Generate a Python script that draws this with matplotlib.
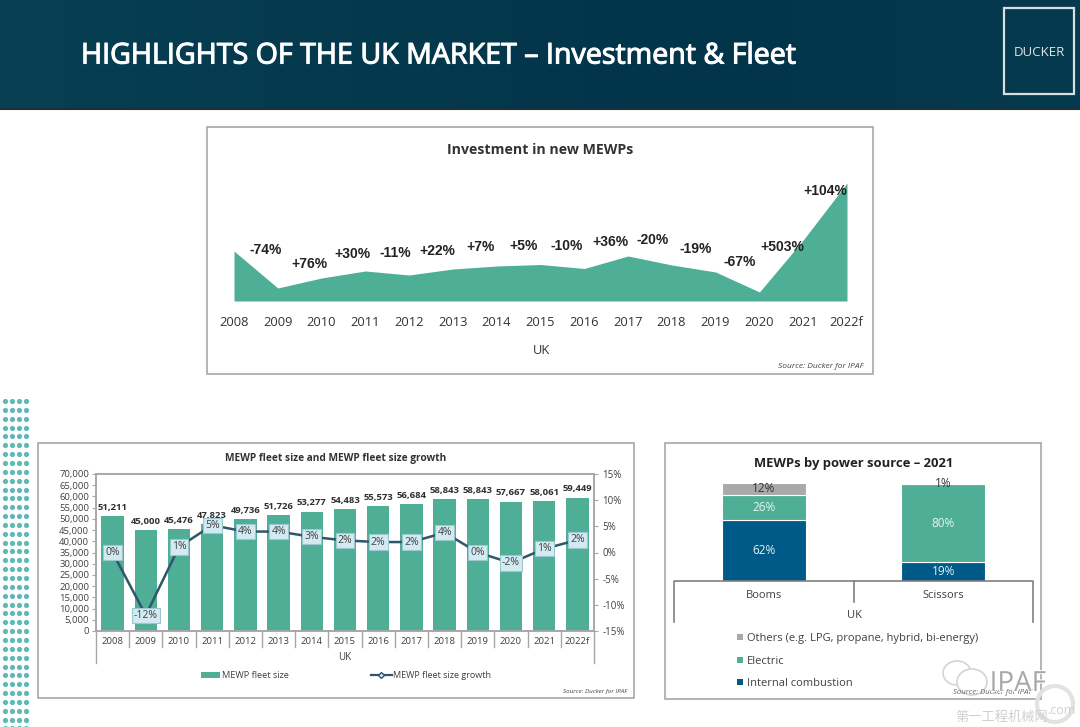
import matplotlib
matplotlib.use('Agg')
import matplotlib.pyplot as plt
import matplotlib.patheffects as pe
from matplotlib.colors import LinearSegmentedColormap
from matplotlib.patches import Rectangle, Ellipse
import numpy as np

plt.rcParams['font.family'] = ['Open Sans', 'Noto Sans CJK SC', 'DejaVu Sans']

W, H = 1080, 727
GREEN = '#4fae96'
BLUE = '#005a87'
GREY = '#a9a9a9'
EDGE = '#a6a6a6'
TEXT = '#404040'

# investment chart
years = ['2008', '2009', '2010', '2011', '2012', '2013', '2014', '2015',
         '2016', '2017', '2018', '2019', '2020', '2021', '2022f']
investment = [50, 13, 23, 30, 26, 32, 35, 36.5, 32.5, 45, 36, 29, 9, 61, 118]
invest_change = ['-74%', '+76%', '+30%', '-11%', '+22%', '+7%', '+5%', '-10%',
                 '+36%', '-20%', '-19%', '-67%', '+503%', '+104%']

# fleet chart
fleet = [51211, 45000, 45476, 47823, 49736, 51726, 53277, 54483,
         55573, 56684, 58843, 58843, 57667, 58061, 59449]
growth = [0, -12, 1.06, 5.2, 4, 4, 3, 2.3, 2, 2, 3.8, 0, -2, 0.7, 2.4]

# power source chart
machines = ['Booms', 'Scissors']
combustion = [62, 19]
electric = [26, 80]
others = [12, 1]


def px_axes(left, top, right, bottom, **kw):
    return fig.add_axes([left / W, 1 - bottom / H, (right - left) / W, (bottom - top) / H], **kw)


def panel(ax, left, top, right, bottom):
    ax.add_patch(Rectangle((left, top), right - left, bottom - top, fc='white', ec='#a8a8a8', lw=1.2))


fig = plt.figure(figsize=(W / 100, H / 100), dpi=100, facecolor='white')

# background layer
bg = fig.add_axes([0, 0, 1, 1], zorder=0)
header = LinearSegmentedColormap.from_list('hd', ['#083f52', '#02344a', '#063a4e'])
shade = np.interp(np.linspace(0, 1, 400), [0, 0.65, 1], [0, 0.5, 1])
bg.imshow(shade[np.newaxis, :], extent=(0, W, 108, 0), aspect='auto', cmap=header, vmin=0, vmax=1)
bg.set_xlim(0, W)
bg.set_ylim(H, 0)
bg.axis('off')
bg.plot([0, W], [108.5, 108.5], color='#1d2f38', lw=1.5)
bg.add_patch(Rectangle((1004, 8), 70, 86, fc='none', ec='#d8dee2', lw=1.6))

dot_x, dot_y = np.meshgrid([5, 11.7, 18.7, 25.7], np.arange(401, 730, 8.85))
bg.scatter(dot_x.ravel(), dot_y.ravel(), s=14, color='#5cb9b6', lw=0)

panel(bg, 207, 127, 873, 374)
panel(bg, 38, 443, 634, 698)
panel(bg, 665, 443, 1041, 699)

# top chart
ax1 = px_axes(234, 183, 847, 301, zorder=2)
xs = np.arange(len(years))
ax1.fill_between(xs, investment, color=GREEN, lw=0)
ax1.set_xlim(0, len(years) - 1)
ax1.set_ylim(0, max(investment))
ax1.axis('off')

# fleet chart
ax2 = px_axes(96, 474, 594, 631, zorder=2)
ax2.bar(xs, fleet, width=0.67, color=GREEN)
ax2.set_xlim(-0.5, len(years) - 0.5)
ax2.set_ylim(0, 70000)
ax2.set_yticks(np.arange(0, 70001, 5000))
ax2.set_yticklabels([f'{v:,}' for v in np.arange(0, 70001, 5000)])
ax2.set_xticks(xs)
ax2.set_xticklabels(years)
ax2.tick_params(axis='x', length=0, pad=4, labelsize=6.8, labelcolor=TEXT)
ax2.tick_params(axis='y', length=3, pad=2, labelsize=6.8, labelcolor=TEXT, color=EDGE)
for v, x in zip(fleet, xs):
    ax2.annotate(f'{v:,}', (x, v), xytext=(0, 3), textcoords='offset points', ha='center', va='bottom',
                 fontsize=6.8, fontweight='bold', color='#303030')

ax2r = ax2.twinx()
ax2r.set_ylim(-15, 15)
ax2r.set_yticks(np.arange(-15, 16, 5))
ax2r.set_yticklabels([f'{v}%' for v in np.arange(-15, 16, 5)])
ax2r.tick_params(axis='y', length=3, pad=3, labelsize=7, labelcolor=TEXT, color=EDGE)
ax2r.plot(xs, growth, color='#2f5669', lw=1.8, marker='D', ms=3, mfc='#d5ebf2', mec='#2f5669')
for v, x in zip(growth, xs):
    ax2r.text(x, v, f'{v:.0f}%', ha='center', va='center', fontsize=7.5, color=TEXT, zorder=5,
              bbox=dict(boxstyle='square,pad=0.2', fc='#d3eaf2', ec='#9cc6d0', lw=0.8))
for a in (ax2, ax2r):
    for s in a.spines.values():
        s.set_color(EDGE)
        s.set_linewidth(1.1)

# power source chart
ax3 = px_axes(674, 483, 1033, 581, zorder=2)
pos = np.arange(len(machines))
ax3.bar(pos, combustion, width=0.47, color=BLUE, ec='white', lw=0.8)
ax3.bar(pos, electric, width=0.47, bottom=combustion, color=GREEN, ec='white', lw=0.8)
ax3.bar(pos, others, width=0.47, bottom=np.add(combustion, electric), color=GREY, ec='white', lw=0.8)
for i in pos:
    ax3.text(i, combustion[i] / 2, f'{combustion[i]}%', ha='center', va='center', color='#e8f2f6', fontsize=8.5)
    ax3.text(i, combustion[i] + electric[i] / 2, f'{electric[i]}%', ha='center', va='center', color='#e8f6f2', fontsize=8.5)
    ax3.text(i, combustion[i] + electric[i] + others[i] / 2, f'{others[i]}%', ha='center', va='center', color='#333333', fontsize=8.5)
ax3.set_xlim(-0.5, 1.5)
ax3.set_ylim(0, 100)
ax3.axis('off')

# text and rules on top
fg = fig.add_axes([0, 0, 1, 1], zorder=10)
fg.set_xlim(0, W)
fg.set_ylim(H, 0)
fg.axis('off')
fg.patch.set_alpha(0)

fg.text(81, 56, 'HIGHLIGHTS OF THE UK MARKET – Investment & Fleet', color='white', fontsize=20.6,
        va='center', path_effects=[pe.withStroke(linewidth=0.8, foreground='white')])
fg.text(1039, 52, 'DUCKER', color='#dfe5e8', fontsize=9.5, ha='center', va='center')

# top chart text
fg.text(540, 150, 'Investment in new MEWPs', fontsize=10.2, fontweight='bold', color='#333333', ha='center', va='center')
invest_x = [266, 309, 352, 395, 437, 481, 524, 567, 610, 653, 696, 740, 782, 825]
invest_y = [250, 264, 254, 253, 251, 247, 246, 246, 242, 240, 249, 262, 247, 191]
for label, x, y in zip(invest_change, invest_x, invest_y):
    fg.text(x, y, label, fontsize=10, fontweight='bold', color='#222222', ha='center', va='center', family='Liberation Sans')
for i, y in enumerate(years):
    fg.text(234 + 43.75 * i, 322, y, fontsize=9.3, color='#333333', ha='center', va='center')
fg.text(541, 350, 'UK', fontsize=9.3, color='#333333', ha='center', va='center')
fg.text(864, 367, 'Source: Ducker for IPAF', fontsize=6, style='italic', color='#444444', ha='right', va='center')

# fleet chart text
fg.text(336, 459, 'MEWP fleet size and MEWP fleet size growth', fontsize=7.3, fontweight='bold', color='#333333', ha='center', va='center')
step = (594 - 96) / len(years)
for i in range(len(years) + 1):
    bottom = 663 if i in (0, len(years)) else 647
    fg.plot([96 + step * i] * 2, [631, bottom], color=EDGE, lw=1)
fg.text(345, 658, 'UK', fontsize=7, color=TEXT, ha='center', va='center')
fg.add_patch(Rectangle((201, 672), 19, 6, fc=GREEN, ec='none'))
fg.text(222, 676, 'MEWP fleet size', fontsize=6.6, color=TEXT, va='center')
fg.plot([371, 392], [675, 675], color='#2f5669', lw=1.6)
fg.plot([381], [675], marker='D', ms=3, mfc='#d5ebf2', mec='#2f5669', lw=0)
fg.text(393, 676, 'MEWP fleet size growth', fontsize=6.5, color=TEXT, va='center')
fg.text(627, 691, 'Source: Ducker for IPAF', fontsize=4.5, style='italic', color='#444444', ha='right', va='center')

# power source text
fg.text(854, 464, 'MEWPs by power source – 2021', fontsize=9.4, fontweight='bold', color='#222222', ha='center', va='center')
fg.plot([674, 674, 1033, 1033], [622, 581, 581, 622], color='#808080', lw=1.2)
fg.plot([854, 854], [581, 602], color='#808080', lw=1.2)
fg.text(764, 595, machines[0], fontsize=8, color=TEXT, ha='center', va='center')
fg.text(943, 595, machines[1], fontsize=8, color=TEXT, ha='center', va='center')
fg.text(854, 616, 'UK', fontsize=8, color=TEXT, ha='center', va='center')
legend_rows = [(637, GREY, 'Others (e.g. LPG, propane, hybrid, bi-energy)'),
               (660, GREEN, 'Electric'),
               (682, BLUE, 'Internal combustion')]
for y, c, label in legend_rows:
    fg.add_patch(Rectangle((737, y - 3), 6, 6, fc=c, ec='none'))
    fg.text(747, y + 1, label, fontsize=8, color=TEXT, va='center')
fg.text(1032, 692, 'Source: Ducker for IPAF', fontsize=5.6, style='italic', color='#666666', ha='right', va='center')

# watermark
fg.add_patch(Ellipse((957, 673), 28, 24, fc='white', ec='#d4d4d4', lw=1.2))
fg.add_patch(Ellipse((972, 682), 30, 26, fc='white', ec='#d4d4d4', lw=1.2))
fg.add_patch(Ellipse((1055, 704), 36, 36, fc='none', ec='#e2e2e2', lw=3))
halo = [pe.withStroke(linewidth=1.5, foreground='white')]
fg.text(1046, 684, 'IPAF', fontsize=20, color='#a8a8a8', ha='right', va='center', path_effects=halo)
fg.text(1002, 717, '第一工程机械网', fontsize=9.5, color='#d0d0d0', ha='center', va='center')
fg.text(1061, 710, '.com', fontsize=9, color='#cfcfcf', ha='center', va='center')

fig.savefig('out.png', dpi=100)
